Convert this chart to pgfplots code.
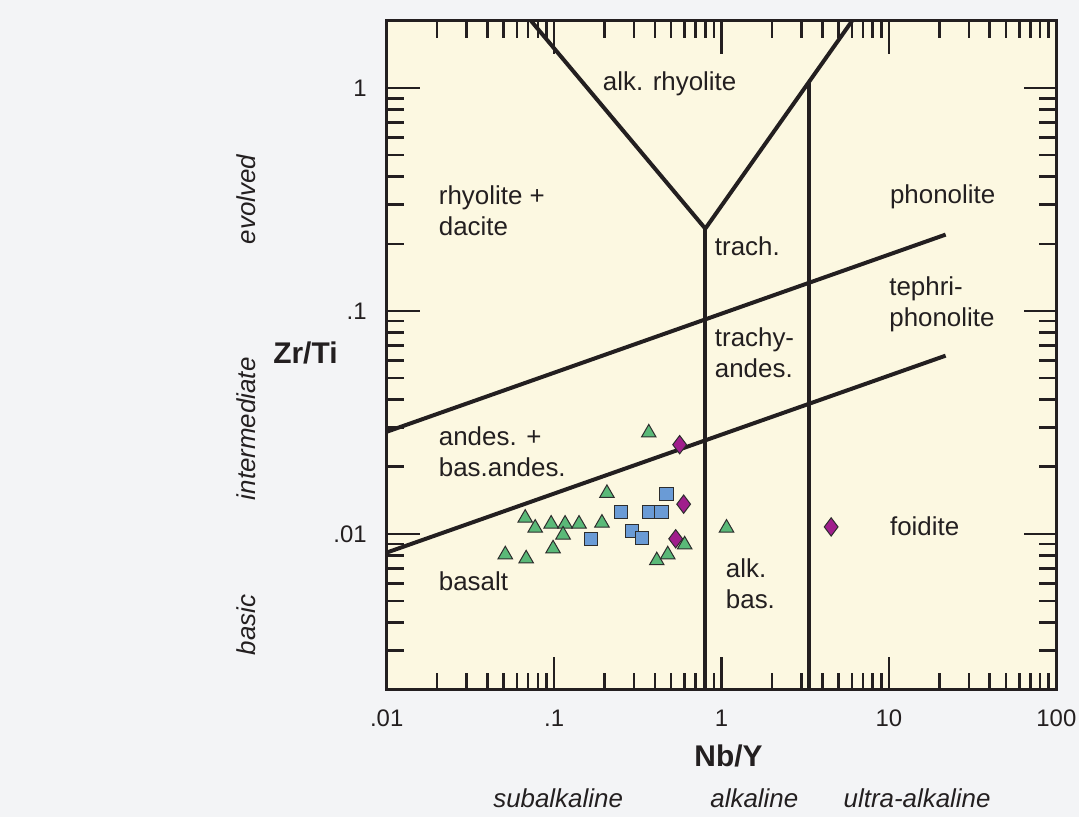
\documentclass[border=0pt]{standalone}
\usepackage{fontspec}
\setmainfont{Liberation Sans}
\usepackage{pgfplots}
\pgfplotsset{compat=1.18}
\definecolor{cream}{RGB}{252,248,225}
\definecolor{bgc}{RGB}{243,244,246}
\definecolor{txt}{RGB}{35,31,32}
\definecolor{tgreen}{RGB}{90,185,120}
\definecolor{sblue}{RGB}{106,155,214}
\definecolor{dpurple}{RGB}{160,30,140}
\definecolor{medge}{RGB}{45,45,45}

\pgfplotstableread{
x y
0.3677 0.02840
0.2068 0.01521
0.0672 0.01178
0.0771 0.01063
0.0960 0.01108
0.1163 0.01108
0.1409 0.01108
0.1931 0.01119
0.1131 0.00990
0.0986 0.00858
0.0511 0.00807
0.0681 0.00774
0.4104 0.00759
0.4771 0.00807
0.6022 0.00894
1.071  0.01063
}\triangles

\pgfplotstableread{
x y
0.4706 0.01506
0.2505 0.01253
0.3677 0.01253
0.4394 0.01253
0.2912 0.01031
0.3341 0.00960
0.1661 0.00950
}\squares

\pgfplotstableread{
x y
0.5623 0.02512
0.594  0.01359
0.5322 0.00950
4.516  0.01074
}\diamonds

\begin{document}
\begin{tikzpicture}[x=1pt,y=1pt,
  lbl/.style={font=\fontsize{13}{15.5}\selectfont, text=txt, inner sep=0pt, align=left},
  itl/.style={font=\itshape\fontsize{13}{15.5}\selectfont, text=txt, inner sep=0pt},
  bld/.style={font=\bfseries\fontsize{15}{18}\selectfont, text=txt, inner sep=0pt}]
\fill[bgc] (-194,-64) rectangle (347.5,346);
\begin{axis}[
  at={(0,0)}, anchor=south west,
  scale only axis, width=336pt, height=335.5pt,
  xmode=log, ymode=log,
  xmin=0.01, xmax=100, ymin=0.002, ymax=2,
  axis background/.style={fill=cream},
  axis line style={line width=1.5pt, draw=txt},
  xtick={0.01,0.1,1,10,100}, xticklabels={.01,.1,1,10,100},
  ytick={0.01,0.1,1}, yticklabels={.01,.1,1},
  minor xtick={0.02,0.03,0.04,0.05,0.06,0.07,0.08,0.09,0.2,0.3,0.4,0.5,0.6,0.7,0.8,0.9,2,3,4,5,6,7,8,9,20,30,40,50,60,70,80,90},
  minor ytick={0.003,0.004,0.005,0.006,0.007,0.008,0.009,0.02,0.03,0.04,0.05,0.06,0.07,0.08,0.09,0.2,0.3,0.4,0.5,0.6,0.7,0.8,0.9},
  tick align=inside, tick pos=both, ticklabel pos=left,
  major tick length=16.5pt, minor tick length=8.5pt,
  tick style={line width=1.3pt, color=txt},
  xticklabel style={font=\fontsize{12}{14}\selectfont, text=txt, yshift=-6.5pt},
  yticklabel style={font=\fontsize{12}{14}\selectfont, text=txt, xshift=-6.5pt},
  clip=false,
]
% field boundaries
\addplot[txt, line width=2pt] coordinates {(0.0729,2) (0.80,0.234) (6.02,2)};
\addplot[txt, line width=2pt] coordinates {(0.80,0.234) (0.80,0.002)};
\addplot[txt, line width=2pt] coordinates {(3.34,1.06) (3.34,0.002)};
\addplot[txt, line width=2pt] coordinates {(0.01,0.0287) (21.8,0.22)};
\addplot[txt, line width=2pt] coordinates {(0.01,0.00824) (21.8,0.063)};

% data
\addplot[only marks, mark=triangle*, mark size=4.2pt,
  mark options={fill=tgreen, draw=medge, line width=0.5pt}] table {\triangles};
\addplot[only marks, mark=square*, mark size=3.4pt,
  mark options={fill=sblue, draw=medge, line width=0.5pt}] table {\squares};
\addplot[only marks, mark=diamond*, mark size=4.6pt,
  mark options={fill=dpurple, draw=medge, line width=0.5pt}] table {\diamonds};

% field labels
\node[lbl, anchor=west] at (axis cs:0.0204,0.281) {rhyolite +\\dacite};
\node[lbl] at (axis cs:0.49,1.05) {alk. rhyolite};
\node[lbl, anchor=west] at (axis cs:10.1,0.324) {phonolite};
\node[lbl, anchor=west] at (axis cs:0.908,0.196) {trach.};
\node[lbl, anchor=west] at (axis cs:0.908,0.065) {trachy-\\andes.};
\node[lbl, anchor=west] at (axis cs:10.0,0.107) {tephri-\\phonolite};
\node[lbl, anchor=west] at (axis cs:0.0204,0.0234) {andes. +\\bas.andes.};
\node[lbl, anchor=west] at (axis cs:0.0204,0.00612) {basalt};
\node[lbl, anchor=west] at (axis cs:1.057,0.0060) {alk.\\bas.};
\node[lbl, anchor=west] at (axis cs:10.1,0.01086) {foidite};

% axis titles and side labels
\node[bld] at (rel axis cs:-0.1213,0.5037) {Zr/Ti};
\node[bld] at (rel axis cs:0.5104,-0.0984) {Nb/Y};
\node[itl] at (rel axis cs:0.256,-0.1624) {subalkaline};
\node[itl] at (rel axis cs:0.549,-0.1624) {alkaline};
\node[itl] at (rel axis cs:0.792,-0.1624) {ultra-alkaline};
\node[itl, rotate=90] at (rel axis cs:-0.2098,0.733) {evolved};
\node[itl, rotate=90] at (rel axis cs:-0.2098,0.390) {intermediate};
\node[itl, rotate=90] at (rel axis cs:-0.2098,0.097) {basic};
\end{axis}
\end{tikzpicture}
\end{document}
